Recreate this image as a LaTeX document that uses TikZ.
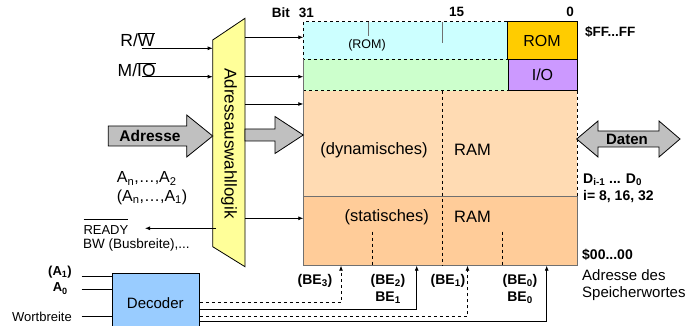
\documentclass[tikz,border=0pt]{standalone}
\usepackage{fontspec}
\setmainfont{Liberation Sans}
\usetikzlibrary{arrows.meta}
\newcommand{\ovl}[1]{$\overline{\hbox{#1}}$}
\newcommand{\ovlhigh}[1]{$\overline{\hbox{\rule{0pt}{1.1em}#1}}$}
\newcommand{\fs}[1]{\fontsize{#1}{#1}\selectfont}
\definecolor{cyanbg}{HTML}{CCFFFF}
\definecolor{greenbg}{HTML}{CCFFCC}
\definecolor{dynbg}{HTML}{FFDBB3}
\definecolor{statbg}{HTML}{FFCC99}
\definecolor{romfill}{HTML}{FFCC00}
\definecolor{iofill}{HTML}{CC99FF}
\definecolor{logicfill}{HTML}{FFFF99}
\definecolor{decfill}{HTML}{99CCFF}
\definecolor{arrfill}{HTML}{C0C0C0}
\definecolor{edgegray}{HTML}{707070}
\tikzset{
  txt/.style={inner sep=0pt, font=\fs{14}},
  btxt/.style={inner sep=0pt, font=\fs{14}\bfseries},
  sig/.style={draw=black, line width=0.8pt, -{Latex[length=5pt,width=4pt]}},
  wire/.style={draw=black, line width=0.8pt},
  blockarrow/.style={draw=black, line width=0.8pt, fill=arrfill},
}
\begin{document}
\begin{tikzpicture}[x=1pt,y=-1pt]
\useasboundingbox (0,0) rectangle (691,326);

% memory regions
\fill[cyanbg] (303.3,21.7) rectangle (507,59.5);
\fill[greenbg] (303.3,59.5) rectangle (508,90.7);
\fill[dynbg] (303.3,90.7) rectangle (577,196.7);
\fill[statbg] (303.3,196.7) rectangle (577,265.7);
\draw[dashed, line width=0.8pt] (507,21.7) -- (303.3,21.7) -- (303.3,59.5) -- (508,59.5);
\draw[dashed, line width=0.8pt] (303.3,90.7) -- (508,90.7);
\draw[edgegray, line width=1pt] (303.3,59.5) -- (303.3,265.7) -- (577,265.7) -- (577,196.7) -- (303.3,196.7);
\draw[dashed, line width=0.8pt] (577,90.7) -- (577,196.7);
\draw[dashed, line width=0.8pt] (442.3,90.7) -- (442.3,265.7);
\draw[dashed, line width=0.8pt] (372.3,231.7) -- (372.3,265.7);
\draw[dashed, line width=0.8pt] (502.7,231.7) -- (502.7,265.7);
\draw[edgegray, line width=1pt] (368,21.7) -- (368,36);
\draw[edgegray, line width=1pt] (442.3,21.7) -- (442.3,43);

\node[draw=black, line width=0.8pt, fill=romfill, minimum width=70pt, minimum height=37.8pt, inner sep=0pt, font=\fs{16}] (rom) at (542,40.6) {ROM};
\node[draw=black, line width=0.8pt, fill=iofill, minimum width=69pt, minimum height=31.2pt, inner sep=0pt, font=\fs{16}] (io) at (542.5,75.1) {I/O};

\node[txt, font=\fs{12.5}] (romsmall) at (367,45.7) {(ROM)};
\node[txt, font=\fs{16.5}] (dyn) at (374,150) {(dynamisches)};
\node[txt, font=\fs{16.5}, anchor=west] (ram1) at (454,150) {RAM};
\node[txt, font=\fs{16.5}] (stat) at (386.7,217) {(statisches)};
\node[txt, font=\fs{16.5}, anchor=west] (ram2) at (454,217) {RAM};

% bit labels
\node[btxt, font=\fs{13.5}\bfseries, anchor=west] (bit31) at (271.7,13) {Bit\hspace{9pt}31};
\node[btxt, font=\fs{13.5}\bfseries] (bit15) at (456.7,12.3) {15};
\node[btxt, font=\fs{13.5}\bfseries] (bit0) at (570,12.3) {0};
\node[btxt, font=\fs{13.5}\bfseries, anchor=west] (ff) at (585,32) {\$FF...FF};
\node[btxt, anchor=west] (zero) at (582,255) {\$00...00};
\node[txt, font=\fs{15}, anchor=west] (adrdes) at (582,275) {Adresse des};
\node[txt, font=\fs{15}, anchor=west] (spw) at (582,293.5) {Speicherwortes};
\node[btxt, anchor=west] (di) at (583,180) {D\textsubscript{i-1} ... D\textsubscript{0}};
\node[btxt, anchor=west] (iv) at (583,197) {i= 8, 16, 32};

% address logic trapezoid
\draw[fill=logicfill, line width=0.8pt] (212.7,40) -- (245,18.3) -- (245,266.7) -- (212.7,246.7) -- cycle;
\node[txt, font=\fs{17}, rotate=-90] (logic) at (229,143.5) {Adressauswahllogik};
\coordinate (lgR1) at (245,37.3);
\coordinate (lgR2) at (245,76.7);
\coordinate (lgR3) at (245,104);
\coordinate (lgR4) at (245,218.3);
\coordinate (mem1) at (303.3,37.3);
\coordinate (mem2) at (303.3,76.7);
\coordinate (mem3) at (303.3,104);
\coordinate (mem4) at (303.3,218.3);
\draw[sig] (lgR1) -- (mem1);
\draw[sig] (lgR2) -- (mem2);
\draw[sig] (lgR3) -- (mem3);
\draw[sig] (lgR4) -- (mem4);

% inputs
\node[txt, font=\fs{17.5}] (rw) at (137.5,39.5) {R/\ovl{W}};
\node[txt, font=\fs{17.5}] (mio) at (136.7,69.5) {M/\ovl{IO}};
\coordinate (rwS) at (142,48.3);
\coordinate (rwE) at (212.7,48.3);
\coordinate (mioS) at (142,76.7);
\coordinate (mioE) at (212.7,76.7);
\draw[sig] (rwS) -- (rwE);
\draw[sig] (mioS) -- (mioE);

\node[txt, font=\fs{16}, anchor=west] (an2) at (116.7,178.3) {A\textsubscript{n},\ldots,A\textsubscript{2}};
\node[txt, font=\fs{16}, anchor=west] (an1) at (116.7,197) {(A\textsubscript{n},\ldots,A\textsubscript{1})};

\node[txt, font=\fs{13}, anchor=south west] (ready) at (83.3,235) {\ovlhigh{READY}};
\node[txt, font=\fs{13.5}, anchor=west] (bw) at (83,245.5) {BW (Busbreite),...};
\coordinate (rdyS) at (216,228.3);
\coordinate (rdyE) at (145,228.3);
\draw[sig] (rdyS) -- (rdyE);

% block arrows
\draw[blockarrow] (108.3,126) -- (186.7,126) -- (186.7,115) -- (212.7,136) -- (186.7,157) -- (186.7,146) -- (108.3,146) -- cycle;
\node[btxt, font=\fs{15.5}\bfseries] (adresse) at (150,136) {Adresse};
\draw[blockarrow] (245,129) -- (275,129) -- (275,116.5) -- (303.3,135) -- (275,153.5) -- (275,141) -- (245,141) -- cycle;
\draw[blockarrow] (576.7,139) -- (598,121) -- (598,131) -- (659,131) -- (659,121) -- (680,139) -- (659,157) -- (659,147) -- (598,147) -- (598,157) -- cycle;
\node[btxt, font=\fs{15}\bfseries] (daten) at (627,139) {Daten};

% decoder
\node[draw=black, line width=0.8pt, fill=decfill, minimum width=87.3pt, minimum height=53pt, inner sep=0pt, font=\fs{15}, anchor=north west] (dec) at (111.7,273.3) {};
\node[txt, font=\fs{15}] (dectxt) at (155.3,303.3) {Decoder};

\node[btxt, font=\fs{13}\bfseries, anchor=east] (a1) at (72,271.7) {(A\textsubscript{1})};
\node[btxt, font=\fs{13}\bfseries, anchor=east] (a0) at (68,288.5) {A\textsubscript{0}};
\node[txt, font=\fs{13}, anchor=east] (wb) at (72,317) {Wortbreite};
\coordinate (a1S) at (81.7,276);
\coordinate (a0S) at (81.7,289);
\coordinate (wbS) at (81.7,316.7);
\draw[wire] (a1S) -- (a1S -| dec.west);
\draw[wire] (a0S) -- (a0S -| dec.west);
\draw[wire] (wbS) -- (wbS -| dec.west);

% decoder outputs
\coordinate (be3) at (341,265.7);
\coordinate (be2) at (416.7,265.7);
\coordinate (be1) at (467.5,265.7);
\coordinate (be0) at (546.7,265.7);
\draw[sig, dashed] (dec.east |- 0,302.3) -- (341,302.3) -- (be3);
\draw[sig] (dec.east |- 0,309.5) -- (416.7,309.5) -- (be2);
\draw[sig, dashed] (dec.east |- 0,316.7) -- (467.5,316.7) -- (be1);
\draw[sig] (dec.east |- 0,321.7) -- (546.7,321.7) -- (be0);

\node[btxt] (lbe3) at (315,280.7) {(BE\textsubscript{3})};
\node[btxt] (lbe2) at (388,280.7) {(BE\textsubscript{2})};
\node[btxt] (lbe1b) at (388,297.5) {BE\textsubscript{1}};
\node[btxt] (lbe1) at (448,280.7) {(BE\textsubscript{1})};
\node[btxt] (lbe0) at (520,280.7) {(BE\textsubscript{0})};
\node[btxt] (lbe0b) at (520,297.5) {BE\textsubscript{0}};
\end{tikzpicture}
\end{document}
